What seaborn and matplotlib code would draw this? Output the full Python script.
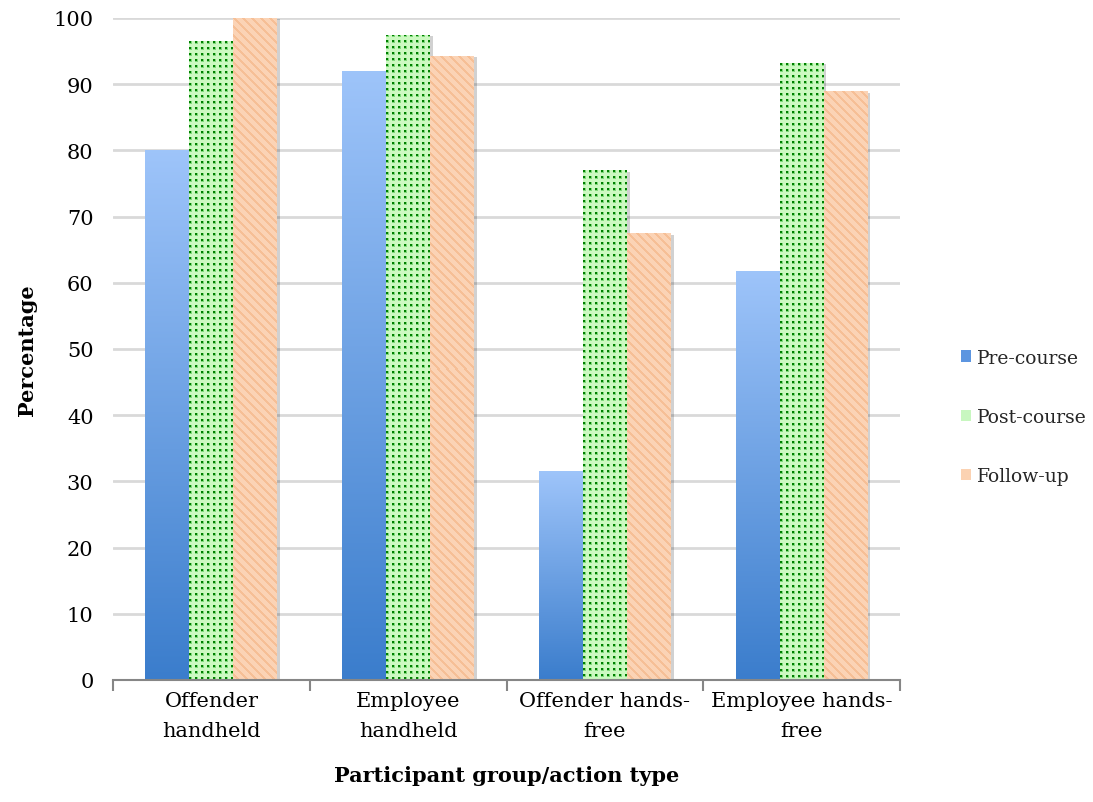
import numpy as np
import pandas as pd
import matplotlib
matplotlib.use("Agg")
import matplotlib.pyplot as plt
import matplotlib.patheffects as pe
from matplotlib.patches import Patch
import seaborn as sns

# Data
groups = ["Offender\nhandheld", "Employee\nhandheld", "Offender hands-\nfree", "Employee hands-\nfree"]
phases = ["Pre-course", "Post-course", "Follow-up"]
pre_course = [80.0, 92.0, 31.5, 61.8]
post_course = [96.5, 97.5, 77.0, 93.2]
follow_up = [100.0, 94.3, 67.5, 88.9]
y_ticks = [0, 10, 20, 30, 40, 50, 60, 70, 80, 90, 100]

df = pd.DataFrame({
    "group": groups * 3,
    "phase": [p for p in phases for _ in groups],
    "value": pre_course + post_course + follow_up,
})

sns.set_theme(style="white")
plt.rcParams["font.family"] = ["DejaVu Serif"]

FS = 15

W, H = 1093, 803
fig = plt.figure(figsize=(W / 100, H / 100), dpi=100)
ax = fig.add_axes([113 / W, 1 - 681 / H, 787 / W, 662 / H])

sns.barplot(data=df, x="group", y="value", hue="phase", order=groups,
            hue_order=phases, width=0.67, palette=["#6FA3EA", "#C8F7C0", "#FBD2B2"],
            linewidth=0, ax=ax, legend=False, zorder=3)

ax.set_xlim(-0.5, 3.5)
ax.set_ylim(0, 100)
ax.set_yticks(y_ticks)
ax.yaxis.grid(True, color="#D9D9D9", linewidth=2, zorder=0)
ax.set_axisbelow(True)

px_x = 787 / 4.0   # pixels per x unit
px_y = 662 / 100.0  # pixels per y unit


def gradient_tex(nx, ny):
    top = np.array([0.62, 0.77, 0.98])
    bot = np.array([0.23, 0.49, 0.80])
    t = np.linspace(0, 1, ny)[:, None]
    col = top[None, :] * (1 - t) + bot[None, :] * t
    return np.repeat(col[:, None, :], nx, axis=1)


def dots_tex(nx, ny):
    bg = np.array([0.80, 0.98, 0.76])
    dot = np.array([0.0, 0.50, 0.0])
    mid = np.array([0.50, 0.85, 0.48])
    img = np.tile(bg, (ny, nx, 1))
    yy, xx = np.mgrid[0:ny, 0:nx]
    ring = ((xx % 6) < 3) & ((yy % 6) < 3)
    img[ring] = mid
    core = ((xx % 6) < 2) & ((yy % 6) < 2)
    img[core] = dot
    return img


def stripes_tex(nx, ny):
    bg = np.array([0.985, 0.83, 0.71])
    st = np.array([0.965, 0.75, 0.59])
    img = np.tile(bg, (ny, nx, 1))
    yy, xx = np.mgrid[0:ny, 0:nx]
    m = ((xx - yy) % 9) < 3
    img[m] = st
    return img


makers = [gradient_tex, dots_tex, stripes_tex]
shadow = [pe.SimplePatchShadow(offset=(2, -1), shadow_rgbFace="#000000", alpha=0.18), pe.Normal()]

for container, maker in zip(ax.containers, makers):
    for bar in container:
        x0 = bar.get_x()
        w = bar.get_width()
        h = bar.get_height()
        nx = max(int(round(w * px_x)), 1)
        ny = max(int(round(h * px_y)), 1)
        bar.set_path_effects(shadow)
        im = ax.imshow(maker(nx, ny), extent=[x0, x0 + w, 0, h], origin="upper",
                       interpolation="nearest", aspect="auto", zorder=4)
        im.set_clip_path(bar)

ax.set_xlim(-0.5, 3.5)
ax.set_ylim(0, 100)

# Axes styling
for s in ["top", "right", "left"]:
    ax.spines[s].set_visible(False)
ax.spines["bottom"].set_color("#868686")
ax.spines["bottom"].set_linewidth(1.5)
ax.spines["bottom"].set_zorder(6)

ax.set_xticks(np.arange(4))
ax.set_xticklabels(groups, fontsize=FS, color="black", linespacing=1.75)
ax.tick_params(axis="x", which="major", bottom=True, length=0, pad=8)
ax.set_xticks([-0.5, 0.5, 1.5, 2.5, 3.5], minor=True)
ax.tick_params(axis="x", which="minor", bottom=True, length=8, width=1.5,
               color="#868686", direction="out")
ax.tick_params(axis="y", left=False, length=0, pad=14, labelsize=FS, labelcolor="black")

ax.set_ylabel("Percentage", fontsize=FS, fontweight="bold", color="black", labelpad=12)
ax.set_xlabel("Participant group/action type", fontsize=FS, fontweight="bold",
              color="black", labelpad=18)

handles = [Patch(facecolor="#5C95E0", edgecolor="none"),
           Patch(facecolor="#C8F7C0", edgecolor="#008000", hatch="::", linewidth=0),
           Patch(facecolor="#FBD2B2", edgecolor="none")]
fig.legend(handles, phases, loc="center left", bbox_to_anchor=(953 / W, 1 - 418 / H),
           frameon=False, fontsize=13.5, handlelength=0.55, handleheight=0.55,
           handletextpad=0.35, labelspacing=2.2, borderaxespad=0)

fig.savefig("out.png", dpi=100)
